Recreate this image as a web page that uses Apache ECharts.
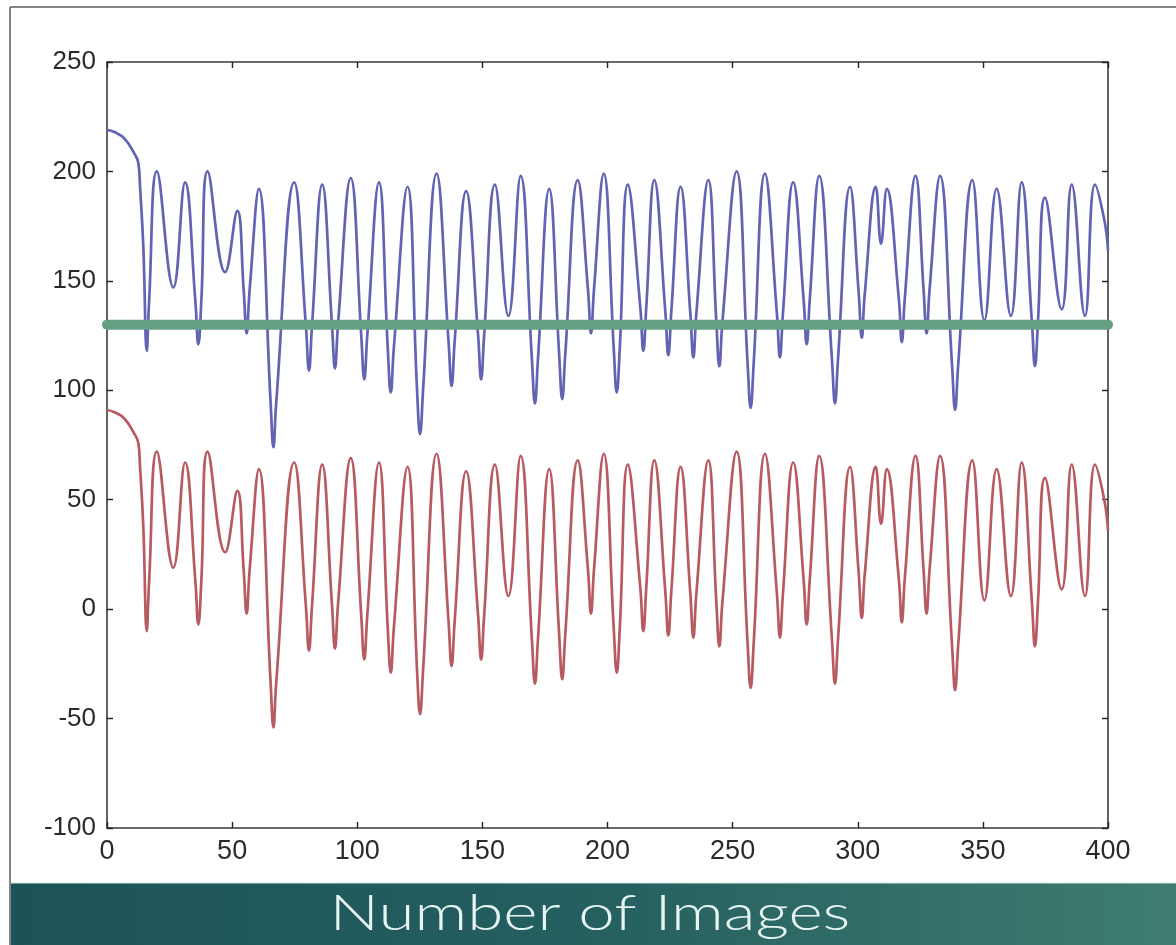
<!DOCTYPE html>
<html>
<head>
<meta charset="utf-8">
<script src="https://cdn.jsdelivr.net/npm/echarts@6/dist/echarts.min.js"></script>
<style>
  html, body { margin: 0; padding: 0; background: #ffffff; }
  #chart { width: 1176px; height: 945px; }
</style>
</head>
<body>
<div id="chart"></div>
<script>
// Frame index of each sampled point (turning points plus the flanks of the sharp dips)
const frames = [
  0, 3, 7, 11, 12.5, 13.2, 14.5, 15.9, 16.8, 19.9,
  26.5, 31.2, 35.3, 36.5, 37.7, 40.2, 47.2, 52.1, 54.6, 55.8, 57.0, 60.7,
  65.4, 66.5, 67.6, 74.8, 79.5, 80.7, 81.9, 86.0, 89.9, 91.1, 92.3, 97.4,
  101.6, 102.8, 104.0, 108.7, 112.2, 113.4, 114.6, 120.1, 123.9, 125.1, 126.3, 131.7,
  136.5, 137.7, 138.9, 143.5, 148.3, 149.5, 150.7, 155.0, 160.4, 165.3,
  169.8, 171.0, 172.2, 176.7, 180.7, 181.9, 183.1, 188.1, 192.2, 193.4, 194.6, 198.5,
  202.5, 203.7, 204.9, 208.1, 213.1, 214.3, 215.5, 218.7, 223.1, 224.3, 225.5, 229.2,
  233.1, 234.3, 235.5, 240.3, 243.5, 244.7, 245.9, 251.6, 256.0, 257.2, 258.4, 262.9,
  267.7, 268.9, 270.1, 274.2, 278.4, 279.6, 280.8, 284.6, 289.7, 290.9, 292.1, 296.9,
  300.4, 301.6, 302.8, 307.2, 309.3, 311.6, 316.4, 317.6, 318.8, 323.1,
  326.3, 327.5, 328.7, 332.9, 337.7, 338.9, 340.1, 345.8, 350.6, 355.5, 361.2, 365.5,
  369.6, 370.8, 372.0, 374.8, 381.5, 385.5, 390.8, 394.8, 398.5, 400
];

// Upper (blue) trace
const upperTrace = [
  219, 218, 215, 208, 204, 193, 166, 118, 140, 200,
  147, 195, 141, 121, 141, 200, 154, 182, 146, 126, 146, 192,
  94, 74, 94, 195, 129, 109, 129, 194, 130, 110, 130, 197,
  125, 105, 125, 195, 119, 99, 119, 193, 100, 80, 100, 199,
  122, 102, 122, 191, 125, 105, 125, 194, 134, 198,
  114, 94, 114, 192, 116, 96, 116, 196, 146, 126, 146, 199,
  119, 99, 119, 194, 138, 118, 138, 196, 136, 116, 136, 193,
  135, 115, 135, 196, 131, 111, 131, 200, 112, 92, 112, 199,
  135, 115, 135, 195, 141, 121, 141, 198, 114, 94, 114, 193,
  144, 124, 144, 193, 167, 192, 142, 122, 142, 198,
  146, 126, 146, 198, 111, 91, 111, 196, 132, 192, 134, 195,
  131, 111, 131, 188, 137, 194, 134, 194, 178, 164
];

// Lower (red) trace
const lowerTrace = [
  91, 90, 87, 80, 76, 65, 38, -10, 12, 72,
  19, 67, 13, -7, 13, 72, 26, 54, 18, -2, 18, 64,
  -34, -54, -34, 67, 1, -19, 1, 66, 2, -18, 2, 69,
  -3, -23, -3, 67, -9, -29, -9, 65, -28, -48, -28, 71,
  -6, -26, -6, 63, -3, -23, -3, 66, 6, 70,
  -14, -34, -14, 64, -12, -32, -12, 68, 18, -2, 18, 71,
  -9, -29, -9, 66, 10, -10, 10, 68, 8, -12, 8, 65,
  7, -13, 7, 68, 3, -17, 3, 72, -16, -36, -16, 71,
  7, -13, 7, 67, 13, -7, 13, 70, -14, -34, -14, 65,
  16, -4, 16, 65, 39, 64, 14, -6, 14, 70,
  18, -2, 18, 70, -17, -37, -17, 68, 4, 64, 6, 67,
  3, -17, 3, 60, 9, 66, 6, 66, 50, 36
];

// Horizontal threshold level
const thresholdLevel = 130;

// Axis ranges and tick steps
const xRange = [0, 400];
const xStep = 50;
const yRange = [-100, 250];
const yStep = 50;

const tickFont = "'Liberation Sans', Arial, sans-serif";
const axisColor = '#3a3a3a';

function pairs(xs, ys) {
  return xs.map((x, i) => [x, ys[i]]);
}

function boxAxis(kind, position, showLabels) {
  const range = kind === 'x' ? xRange : yRange;
  return {
    type: 'value',
    position: position,
    min: range[0],
    max: range[1],
    interval: kind === 'x' ? xStep : yStep,
    splitLine: { show: false },
    axisLine: { show: true, onZero: false, lineStyle: { color: axisColor, width: 1.6 } },
    axisTick: { show: true, inside: true, length: 6, lineStyle: { color: '#222', width: 1.4 } },
    axisLabel: {
      show: showLabels,
      color: '#2a2a2a',
      fontFamily: tickFont,
      fontSize: kind === 'x' ? 27 : 26,
      margin: kind === 'x' ? 10 : 11
    }
  };
}

const chart = echarts.init(document.getElementById('chart'), null, { renderer: 'canvas' });

chart.setOption({
  backgroundColor: '#ffffff',
  animation: false,
  grid: { left: 107, right: 68, top: 62, bottom: 117, containLabel: false },
  xAxis: [boxAxis('x', 'bottom', true), boxAxis('x', 'top', false)],
  yAxis: [boxAxis('y', 'left', true), boxAxis('y', 'right', false)],
  series: [
    {
      name: 'upper',
      type: 'line',
      xAxisIndex: 0, yAxisIndex: 0,
      data: pairs(frames, upperTrace),
      showSymbol: false,
      smooth: 0.45,
      lineStyle: { color: '#6363b3', width: 2.7 },
      z: 3
    },
    {
      name: 'lower',
      type: 'line',
      xAxisIndex: 0, yAxisIndex: 0,
      data: pairs(frames, lowerTrace),
      showSymbol: false,
      smooth: 0.45,
      lineStyle: { color: '#b85a61', width: 2.7 },
      z: 3
    },
    {
      name: 'threshold',
      type: 'line',
      xAxisIndex: 0, yAxisIndex: 0,
      data: [[xRange[0], thresholdLevel], [xRange[1], thresholdLevel]],
      showSymbol: false,
      clip: false,
      lineStyle: { color: '#64a084', width: 10, cap: 'round' },
      z: 5
    }
  ],
  graphic: [
    {
      type: 'line',
      shape: { x1: 10, y1: 7, x2: 1176, y2: 7 },
      style: { stroke: '#5a5a5a', lineWidth: 1.5 },
      silent: true
    },
    {
      type: 'line',
      shape: { x1: 10, y1: 7, x2: 10, y2: 945 },
      style: { stroke: '#5a5a5a', lineWidth: 1.5 },
      silent: true
    },
    {
      type: 'rect',
      shape: { x: 11, y: 883, width: 1165, height: 62 },
      style: {
        fill: new echarts.graphic.LinearGradient(0, 0, 1, 0, [
          { offset: 0, color: '#1c5358' },
          { offset: 0.5, color: '#255f60' },
          { offset: 1, color: '#3e7d70' }
        ])
      },
      silent: true,
      z: 10
    },
    {
      type: 'line',
      shape: { x1: 11, y1: 883, x2: 1176, y2: 883 },
      style: { stroke: '#cfe6e4', lineWidth: 1 },
      silent: true,
      z: 11
    },
    {
      type: 'text',
      x: 590,
      y: 914,
      scaleX: 1.31,
      style: {
        text: 'Number of Images',
        fill: '#e6f4f2',
        font: '300 50px Lato',
        align: 'center',
        verticalAlign: 'middle'
      },
      silent: true,
      z: 12
    }
  ]
});
</script>
</body>
</html>
